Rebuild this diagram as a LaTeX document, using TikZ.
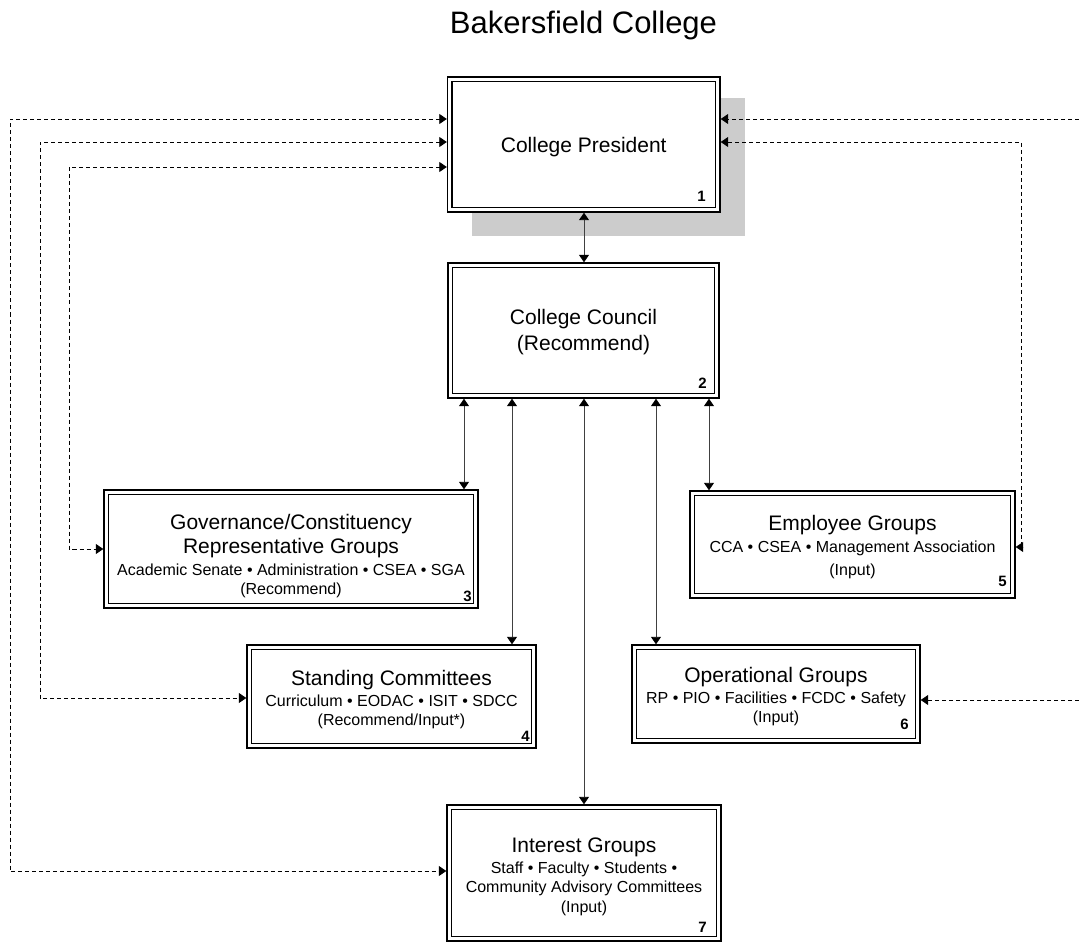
\documentclass[tikz,border=0pt]{standalone}
\usepackage{fontspec}
\setmainfont{Liberation Sans}
\usetikzlibrary{arrows.meta,calc}
\definecolor{shadowgray}{RGB}{204,204,204}
\newcommand{\bgtxt}[1]{{\fontsize{21}{24}\selectfont #1}}
\begin{document}
\setlength{\lineskiplimit}{-50pt}
\begin{tikzpicture}[x=1pt,y=-1pt,
  >={Triangle[length=7.5pt,width=10pt,color=black]},
  box/.style={draw=black,line width=1.4pt,rectangle,inner sep=0pt,fill=white},
  innerline/.style={line width=1.8pt},
  txt/.style={align=center,inner sep=0pt,font=\fontsize{16}{19}\selectfont},
  num/.style={font=\fontsize{15}{17}\selectfont\bfseries,inner sep=0pt,anchor=base east},
  con/.style={draw=black!75,line width=0.9pt},
  dsh/.style={draw=black,line width=0.8pt,dash pattern=on 4pt off 3pt},
]
\useasboundingbox (0,0) rectangle (1079,944);

% title
\node[font=\fontsize{31}{36}\selectfont,anchor=base,inner sep=0pt] (title) at (583.5,34) {Bakersfield College};

% shadow of box 1
\fill[shadowgray] (471.5,98) rectangle (745,236);

% boxes
\node[box,minimum width=272.5pt,minimum height=135pt] (b1) at (583.75,144.5) {};
\node[box,minimum width=271pt,minimum height=135pt] (b2) at (583.5,330.5) {};
\node[box,minimum width=374pt,minimum height=118pt] (b3) at (291,549) {};
\node[box,minimum width=289pt,minimum height=103pt] (b4) at (391.5,696.5) {};
\node[box,minimum width=325pt,minimum height=107pt] (b5) at (852.5,544.5) {};
\node[box,minimum width=288pt,minimum height=98pt] (b6) at (776,694) {};
\node[box,minimum width=274pt,minimum height=136pt] (b7) at (584,873) {};

\foreach \n in {b1,b2,b3,b4,b5,b6,b7}
  \draw[innerline] ([shift={(5.2pt,-5.2pt)}]\n.north west) rectangle ([shift={(-5.2pt,5.2pt)}]\n.south east);

% texts
\node[txt] (t1) at (583.75,147) {\bgtxt{College President}};
\node[txt] (t2) at (583.5,332) {\bgtxt{College Council}\\[7pt]\bgtxt{(Recommend)}};
\node[txt] (t3) at (291,556) {\bgtxt{Governance/Constituency}\\[5pt]\bgtxt{Representative Groups}\\[3pt]Academic Senate • Administration • CSEA • SGA\\(Recommend)};
\node[txt] (t4) at (391.5,699.6) {\bgtxt{Standing Committees}\\[2pt]Curriculum • EODAC • ISIT • SDCC\\(Recommend/Input*)};
\node[txt] (t5) at (852.5,547) {\bgtxt{Employee Groups}\\[3pt]CCA • CSEA • Management Association\\[4pt](Input)};
\node[txt] (t6) at (776,697) {\bgtxt{Operational Groups}\\[2pt]RP • PIO • Facilities • FCDC • Safety\\(Input)};
\node[txt] (t7) at (584,876.6) {\bgtxt{Interest Groups}\\[2pt]Staff • Faculty • Students •\\Community Advisory Committees\\[1pt](Input)};

% numbers
\node[num] (n1) at (706,202) {1};
\node[num] (n2) at (707,388) {2};
\node[num] (n3) at (472,601.5) {3};
\node[num] (n4) at (530,741) {4};
\node[num] (n5) at (1007,586) {5};
\node[num] (n6) at (909,729) {6};
\node[num] (n7) at (707,932.7) {7};

% helper coordinates
\coordinate (yA) at (0,119);
\coordinate (yB) at (0,142);
\coordinate (yC) at (0,167);
\coordinate (c3) at (69,549);
\coordinate (c4) at (40,698);
\coordinate (c7) at (10,871);
\coordinate (c5) at (1021,547);
\coordinate (eA) at (1079,119);
\coordinate (e6) at (1079,700);
\coordinate (x1) at (584,0);
\coordinate (x3) at (464,0);
\coordinate (x4) at (512,0);
\coordinate (x6) at (656,0);
\coordinate (x5) at (709,0);

% solid connectors
\draw[con,<->] (b1.south -| x1) -- (b2.north -| x1);
\draw[con,<->] (b2.south -| x3) -- (b3.north -| x3);
\draw[con,<->] (b2.south -| x4) -- (b4.north -| x4);
\draw[con,<->] (b2.south -| x1) -- (b7.north -| x1);
\draw[con,<->] (b2.south -| x6) -- (b6.north -| x6);
\draw[con,<->] (b2.south -| x5) -- (b5.north -| x5);

% dashed connectors
\draw[dsh,<->] (b1.west |- yA) -| (c7) -- (b7.west |- c7);
\draw[dsh,<->] (b1.west |- yB) -| (c4) -- (b4.west |- c4);
\draw[dsh,<->] (b1.west |- yC) -| (c3) -- (b3.west |- c3);
\draw[dsh,->] (eA) -- (b1.east |- eA);
\draw[dsh,<->] (b1.east |- yB) -| (c5) -- (b5.east |- c5);
\draw[dsh,->] (e6) -- (b6.east |- e6);
\end{tikzpicture}
\end{document}
